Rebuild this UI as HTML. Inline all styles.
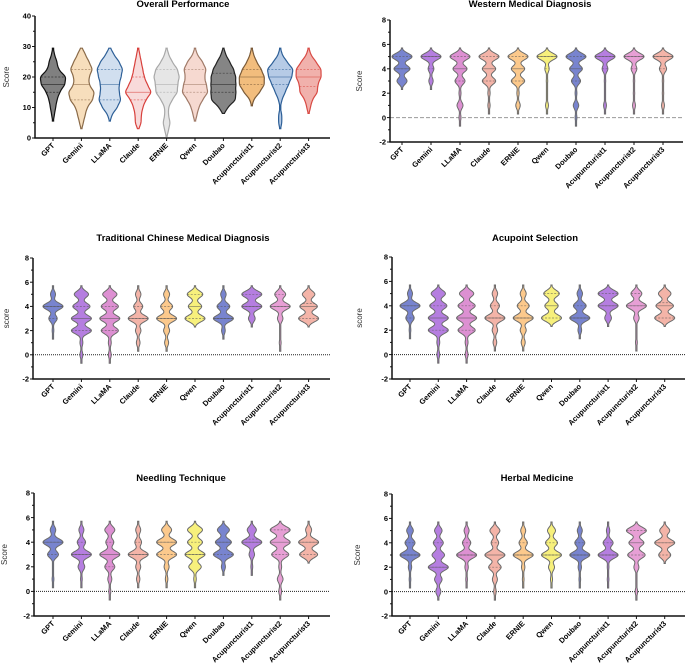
<!DOCTYPE html>
<html><head><meta charset="utf-8">
<style>
body{margin:0;background:#fff;}
svg{display:block;font-family:"Liberation Sans",Arial,sans-serif;}
.t{font-weight:bold;font-size:9.5px;}
.tk{font-size:7.5px;font-weight:bold;}
.xl{font-size:7.5px;font-weight:bold;}
.yl{font-size:8px;fill:#333;}
</style></head>
<body>
<svg id="chart" width="685" height="666" viewBox="0 0 685 666" xmlns="http://www.w3.org/2000/svg"></svg>
<script>
const categories = ["GPT","Gemini","LLaMA","Claude","ERNIE","Qwen","Doubao","Acupuncturist1","Acupuncturist2","Acupuncturist3"];
const overallLevels = [2.5,5,7.5,10,12.5,15,17.5,20,22.5,25,27.5];
const overallCounts = [
 [0,0,1,2,3,5,9,10,4,3,1],
 [0,1,2,3,6,7,4,4,6,4,2],
 [0,0,1,4,6,5,5,6,7,5,2],
 [0,2,2,3,5,9,6,4,3,2,1],
 [1,2,1,1,3,6,6,7,6,3,1],
 [0,0,1,2,4,7,6,5,6,4,1],
 [0,0,0,2,6,6,6,6,5,3,1],
 [0,0,0,0,1,5,8,8,6,3,1],
 [0,1,1,0,1,3,5,7,8,4,1],
 [0,0,0,1,2,5,5,7,7,4,1]
];
const scoreLevels = [0,1,2,3,4,5];
const wmdCounts = [
 [0,0,0,5,8,10],[0,0,0,3,4,14],[1,3,1,5,7,10],[0,1,1,6,6,9],[0,2,1,6,6,9],
 [0,2,0,1,3,14],[1,3,1,5,7,11],[0,2,0,1,4,14],[0,2,1,1,4,14],[0,2,1,1,5,14]
];
const tcmCounts = [
 [0,0,1,5,12,3],[1,1,7,7,6,5],[1,1,6,7,6,5],[0,2,3,11,5,3],[0,2,3,10,6,3],
 [0,0,0,9,6,7],[0,0,2,11,7,3],[0,0,0,3,9,9],[0,1,0,3,11,6],[0,0,0,8,7,5]
];
const acuCounts = [
 [0,0,1,5,12,3],[1,1,7,7,6,5],[1,1,6,7,6,5],[0,2,3,11,5,3],[0,2,3,10,6,3],
 [0,0,0,9,6,7],[0,0,2,11,7,3],[0,0,0,3,9,9],[0,1,0,3,11,6],[0,0,0,8,7,5]
];
const needCounts = [
 [0,1,0,6,11,3],[0,1,4,12,5,3],[1,2,5,10,4,5],[0,2,3,12,4,3],[0,1,2,8,8,4],
 [0,1,5,8,6,6],[0,0,2,10,8,6],[0,0,1,3,11,5],[1,2,1,6,7,7],[0,0,0,9,10,3]
];
const herbCounts = [
 [0,1,2,12,6,4],[2,3,8,5,4,3],[0,1,2,12,5,3],[1,2,5,8,3,4],[0,1,2,12,5,3],
 [0,1,3,10,6,4],[0,1,2,12,6,3],[0,1,1,12,6,2],[1,0,2,7,6,8],[0,0,0,6,10,5]
];
const overallTicks = [0,10,20,30,40];
const scoreTicks = [-2,0,2,4,6,8];

const ovFill=["#6a6a6a","#f6d8b0","#c9d9ec","#f7d3d3","#e2e2e2","#f5d2c8","#707070","#f0b266","#a9c2e2","#eea39d"];
const ovStroke=["#111","#8a6a48","#2d5f97","#d8403c","#a8a8a8","#a07a68","#222","#7a5a38","#2d5f97","#d84a44"];
const scFill=["#7884cf","#b57ee0","#dd90d2","#f4b4a8","#fcc98c","#f7f07c","#7884cf","#b57ee0","#e79fd5","#f4b4a8"];

const panels=[
 {title:"Overall Performance",tx:183,ty:7,ax:35,x1:330,yTop:16,yBot:138,min:0,max:40,ticks:overallTicks,minor:5,cx0:53,dx:28.4,levels:overallLevels,counts:overallCounts,bw:1.3,cut:1.5,hw:12.5,ov:true,ylab:"Score",ylx:9,zero:false},
 {title:"Western Medical Diagnosis",tx:530,ty:7,ax:390,x1:683,yTop:20,yBot:142,min:-2,max:8,ticks:scoreTicks,minor:1,cx0:402,dx:29,levels:scoreLevels,counts:wmdCounts,bw:0.27,cut:2.6,hw:10,ylab:"Score",ylx:362,zero:"dash"},
 {title:"Traditional Chinese Medical Diagnosis",tx:183,ty:241,ax:33,x1:330,yTop:258,yBot:379,min:-2,max:8,ticks:scoreTicks,minor:1,cx0:53,dx:28.4,levels:scoreLevels,counts:tcmCounts,bw:0.27,cut:2.6,hw:10,ylab:"score",ylx:9,zero:"dot"},
 {title:"Acupoint Selection",tx:535,ty:241,ax:392,x1:685,yTop:257,yBot:379,min:-2,max:8,ticks:scoreTicks,minor:1,cx0:410,dx:28.3,levels:scoreLevels,counts:acuCounts,bw:0.27,cut:2.6,hw:10,ylab:"score",ylx:362,zero:"dot"},
 {title:"Needling Technique",tx:181,ty:481,ax:34,x1:330,yTop:493,yBot:616,min:-2,max:8,ticks:scoreTicks,minor:1,cx0:53,dx:28.4,levels:scoreLevels,counts:needCounts,bw:0.27,cut:2.6,hw:10,ylab:"Score",ylx:7,zero:"dot"},
 {title:"Herbal Medicine",tx:537,ty:481,ax:392,x1:685,yTop:494,yBot:616,min:-2,max:8,ticks:scoreTicks,minor:1,cx0:410,dx:28.3,levels:scoreLevels,counts:herbCounts,bw:0.27,cut:2.6,hw:10,ylab:"Score",ylx:360,zero:"dot"}
];
const NS="http://www.w3.org/2000/svg";
const svg=document.getElementById('chart');
function mk(tag,attrs,parent,text){const e=document.createElementNS(NS,tag);for(const k in attrs)e.setAttribute(k,attrs[k]);if(text!==undefined)e.textContent=text;(parent||svg).appendChild(e);return e;}
function quantile(levels,counts,q){const vals=[];counts.forEach((c,i)=>{for(let j=0;j<c;j++)vals.push(levels[i]);});const p=(vals.length-1)*q;const lo=Math.floor(p),hi=Math.ceil(p);return vals[lo]+(vals[hi]-vals[lo])*(p-lo);}
panels.forEach((P,pi)=>{
 const g=mk('g',{});
 
 
 const y=v=>P.yBot-(v-P.min)/(P.max-P.min)*(P.yBot-P.yTop);
 const x=i=>P.cx0+i*P.dx;
 const t=mk('text',{x:P.tx,y:P.ty,'text-anchor':'middle',class:'t'},g,P.title);
 
 
 const yl=mk('text',{x:P.ylx,y:(P.yTop+P.yBot)/2,'text-anchor':'middle',class:'yl',transform:`rotate(-90 ${P.ylx} ${(P.yTop+P.yBot)/2})`},g,P.ylab);
 
 
 if(P.zero){const z=mk('line',{x1:P.ax,x2:P.x1,y1:y(0),y2:y(0),stroke:P.zero==='dash'?'#999':'#222','stroke-width':1,'stroke-dasharray':P.zero==='dash'?'4 2':'1 1'},g);
  }
 P.counts.forEach((cnt,i)=>{
  let vmin=Infinity,vmax=-Infinity;cnt.forEach((c,k)=>{if(c>0){vmin=Math.min(vmin,P.levels[k]);vmax=Math.max(vmax,P.levels[k]);}});
  const lo=vmin-P.cut*P.bw,hi=vmax+P.cut*P.bw;
  const N=120,pts=[];let md=0;
  for(let s=0;s<=N;s++){const v=lo+(hi-lo)*s/N;let d=0;cnt.forEach((c,k)=>{d+=c*Math.exp(-((v-P.levels[k])**2)/(2*P.bw*P.bw));});pts.push([v,d]);md=Math.max(md,d);}
  const cx=x(i);
  const wid=d=>Math.max(0.6,d/md*P.hw);
  let dstr='';pts.forEach((p,s)=>{dstr+=(s?'L':'M')+(cx+wid(p[1])).toFixed(2)+','+y(p[0]).toFixed(2);});
  for(let s=pts.length-1;s>=0;s--){dstr+='L'+(cx-wid(pts[s][1])).toFixed(2)+','+y(pts[s][0]).toFixed(2);}
  dstr+='Z';
  const fill=P.ov?ovFill[i]:scFill[i],stroke=P.ov?ovStroke[i]:'#6b6b6b';
  const path=mk('path',{d:dstr,fill:fill,'fill-opacity':P.ov?0.85:1,stroke:stroke,'stroke-width':P.ov?1.2:1},g);
  
  
  [[0.25,'2 1.5'],[0.5,''],[0.75,'2 1.5']].forEach(([q,da])=>{
   const qv=quantile(P.levels,cnt,q);
   let d=0;cnt.forEach((c,k)=>{d+=c*Math.exp(-((qv-P.levels[k])**2)/(2*P.bw*P.bw));});
   const w=wid(d);
   const l=mk('line',{x1:cx-w,x2:cx+w,y1:y(qv),y2:y(qv),stroke:P.ov?stroke:'#555','stroke-width':0.7,'stroke-dasharray':da,'stroke-opacity':0.7},g);
   
   
  });
  const xl=mk('text',{x:cx+2,y:P.yBot+8,'text-anchor':'end',class:'xl',transform:`rotate(-45 ${cx+2} ${P.yBot+8})`},g,categories[i]);
  
  
 });
 const ya=mk('line',{x1:P.ax,x2:P.ax,y1:P.yTop,y2:P.yBot,stroke:'#111','stroke-width':1.5},g);
 
 const xa=mk('line',{x1:P.ax-0.75,x2:P.x1,y1:P.yBot,y2:P.yBot,stroke:'#111','stroke-width':1.5},g);
 
 for(let v=P.min;v<=P.max+1e-9;v+=P.minor){
  const major=P.ticks.includes(v);
  mk('line',{x1:P.ax-(major?3:2),x2:P.ax,y1:y(v),y2:y(v),stroke:'#111','stroke-width':1},g);
 }
 P.ticks.forEach(v=>{
  const tl=mk('text',{x:P.ax-4,y:y(v)+2.7,'text-anchor':'end',class:'tk'},g,String(v));
  
  
 });
 categories.forEach((c,i)=>{mk('line',{x1:x(i),x2:x(i),y1:P.yBot,y2:P.yBot+3,stroke:'#111','stroke-width':1},g);});
});
</script>
</body></html>
